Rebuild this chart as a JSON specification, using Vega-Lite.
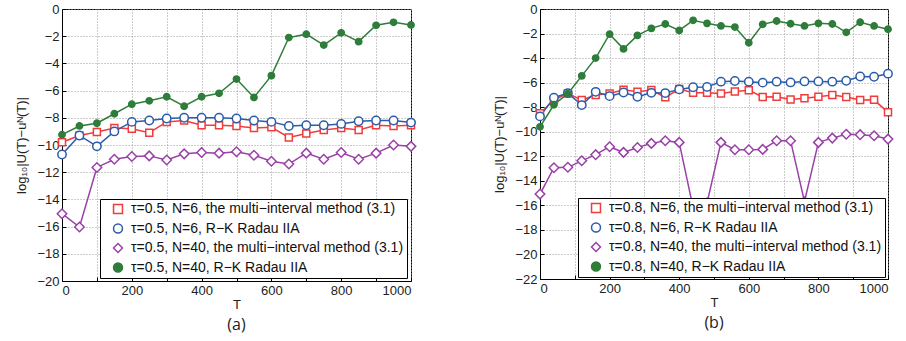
{
"$schema": "https://vega.github.io/schema/vega-lite/v6.json",
"padding": {"left": 15, "top": 2, "right": 0, "bottom": 0},
"spacing": 73,
"config": {
  "view": {"stroke": "black", "strokeWidth": 1},
  "font": "Liberation Sans",
  "axis": {"labelFont": "Liberation Sans", "titleFont": "Liberation Sans", "labelFontSize": 13, "titleFontSize": 13, "titleFontWeight": "normal", "labelColor": "#222", "titleColor": "#222", "domainColor": "black", "tickColor": "black", "tickSize": -4, "labelPadding": 7, "gridColor": "#999", "gridDash": [1, 2], "gridOpacity": 1},
  "legend": {"labelFont": "Liberation Sans", "labelFontSize": 14, "labelColor": "#111", "labelLimit": 600, "strokeColor": "black", "fillColor": "white", "padding": 3, "cornerRadius": 0, "symbolSize": 80, "symbolStrokeWidth": 1.5, "labelOffset": 6, "symbolOffset": 8, "rowPadding": 3.5},
  "title": {"font": "Open Sans", "fontSize": 16, "fontWeight": "normal", "color": "#222"}
},
"datasets": {
  "a": [
    {"s":"m6","T":0,"v":-9.8},{"s":"m6","T":50,"v":-9.3},{"s":"m6","T":100,"v":-9.05},{"s":"m6","T":150,"v":-8.75},{"s":"m6","T":200,"v":-8.8},{"s":"m6","T":250,"v":-9.1},{"s":"m6","T":300,"v":-8.3},{"s":"m6","T":350,"v":-8.2},{"s":"m6","T":400,"v":-8.55},{"s":"m6","T":450,"v":-8.55},{"s":"m6","T":500,"v":-8.6},{"s":"m6","T":550,"v":-8.75},{"s":"m6","T":600,"v":-8.7},{"s":"m6","T":650,"v":-9.45},{"s":"m6","T":700,"v":-9.15},{"s":"m6","T":750,"v":-8.9},{"s":"m6","T":800,"v":-8.75},{"s":"m6","T":850,"v":-8.9},{"s":"m6","T":900,"v":-8.55},{"s":"m6","T":950,"v":-8.6},{"s":"m6","T":1000,"v":-8.55},
    {"s":"r6","T":0,"v":-10.7},{"s":"r6","T":50,"v":-9.3},{"s":"r6","T":100,"v":-10.1},{"s":"r6","T":150,"v":-9.0},{"s":"r6","T":200,"v":-8.3},{"s":"r6","T":250,"v":-8.2},{"s":"r6","T":300,"v":-8.05},{"s":"r6","T":350,"v":-8.0},{"s":"r6","T":400,"v":-8.0},{"s":"r6","T":450,"v":-8.0},{"s":"r6","T":500,"v":-8.05},{"s":"r6","T":550,"v":-8.2},{"s":"r6","T":600,"v":-8.3},{"s":"r6","T":650,"v":-8.6},{"s":"r6","T":700,"v":-8.55},{"s":"r6","T":750,"v":-8.55},{"s":"r6","T":800,"v":-8.45},{"s":"r6","T":850,"v":-8.25},{"s":"r6","T":900,"v":-8.2},{"s":"r6","T":950,"v":-8.2},{"s":"r6","T":1000,"v":-8.35},
    {"s":"m40","T":0,"v":-15.05},{"s":"m40","T":50,"v":-16.03},{"s":"m40","T":100,"v":-11.65},{"s":"m40","T":150,"v":-11.05},{"s":"m40","T":200,"v":-10.85},{"s":"m40","T":250,"v":-10.8},{"s":"m40","T":300,"v":-11.1},{"s":"m40","T":350,"v":-10.65},{"s":"m40","T":400,"v":-10.55},{"s":"m40","T":450,"v":-10.6},{"s":"m40","T":500,"v":-10.5},{"s":"m40","T":550,"v":-10.75},{"s":"m40","T":600,"v":-11.2},{"s":"m40","T":650,"v":-11.4},{"s":"m40","T":700,"v":-10.6},{"s":"m40","T":750,"v":-11.05},{"s":"m40","T":800,"v":-10.55},{"s":"m40","T":850,"v":-11.05},{"s":"m40","T":900,"v":-10.6},{"s":"m40","T":950,"v":-10.0},{"s":"m40","T":1000,"v":-10.1},
    {"s":"r40","T":0,"v":-9.24},{"s":"r40","T":50,"v":-8.6},{"s":"r40","T":100,"v":-8.4},{"s":"r40","T":150,"v":-7.7},{"s":"r40","T":200,"v":-7.0},{"s":"r40","T":250,"v":-6.75},{"s":"r40","T":300,"v":-6.45},{"s":"r40","T":350,"v":-7.15},{"s":"r40","T":400,"v":-6.45},{"s":"r40","T":450,"v":-6.2},{"s":"r40","T":500,"v":-5.15},{"s":"r40","T":550,"v":-6.5},{"s":"r40","T":600,"v":-4.9},{"s":"r40","T":650,"v":-2.1},{"s":"r40","T":700,"v":-1.85},{"s":"r40","T":750,"v":-2.65},{"s":"r40","T":800,"v":-1.75},{"s":"r40","T":850,"v":-2.4},{"s":"r40","T":900,"v":-1.2},{"s":"r40","T":950,"v":-0.98},{"s":"r40","T":1000,"v":-1.17}
  ],
  "b": [
    {"s":"m6","T":0,"v":-8.5},{"s":"m6","T":40,"v":-7.42},{"s":"m6","T":80,"v":-6.88},{"s":"m6","T":120,"v":-7.42},{"s":"m6","T":160,"v":-7.0},{"s":"m6","T":200,"v":-6.88},{"s":"m6","T":240,"v":-6.58},{"s":"m6","T":280,"v":-6.75},{"s":"m6","T":320,"v":-6.6},{"s":"m6","T":360,"v":-7.2},{"s":"m6","T":400,"v":-6.52},{"s":"m6","T":440,"v":-6.82},{"s":"m6","T":480,"v":-6.82},{"s":"m6","T":520,"v":-6.88},{"s":"m6","T":560,"v":-6.72},{"s":"m6","T":600,"v":-6.63},{"s":"m6","T":640,"v":-7.17},{"s":"m6","T":680,"v":-7.15},{"s":"m6","T":720,"v":-7.37},{"s":"m6","T":760,"v":-7.28},{"s":"m6","T":800,"v":-7.15},{"s":"m6","T":840,"v":-7.0},{"s":"m6","T":880,"v":-7.17},{"s":"m6","T":920,"v":-7.42},{"s":"m6","T":960,"v":-7.4},{"s":"m6","T":1000,"v":-8.42},
    {"s":"r6","T":0,"v":-8.75},{"s":"r6","T":40,"v":-7.23},{"s":"r6","T":80,"v":-6.85},{"s":"r6","T":120,"v":-7.83},{"s":"r6","T":160,"v":-6.75},{"s":"r6","T":200,"v":-7.1},{"s":"r6","T":240,"v":-6.8},{"s":"r6","T":280,"v":-7.15},{"s":"r6","T":320,"v":-6.83},{"s":"r6","T":360,"v":-6.85},{"s":"r6","T":400,"v":-6.55},{"s":"r6","T":440,"v":-6.38},{"s":"r6","T":480,"v":-6.35},{"s":"r6","T":520,"v":-5.92},{"s":"r6","T":560,"v":-5.87},{"s":"r6","T":600,"v":-5.92},{"s":"r6","T":640,"v":-6.0},{"s":"r6","T":680,"v":-5.92},{"s":"r6","T":720,"v":-5.98},{"s":"r6","T":760,"v":-5.9},{"s":"r6","T":800,"v":-5.9},{"s":"r6","T":840,"v":-5.92},{"s":"r6","T":880,"v":-5.85},{"s":"r6","T":920,"v":-5.5},{"s":"r6","T":960,"v":-5.52},{"s":"r6","T":1000,"v":-5.27},
    {"s":"m40","T":0,"v":-15.08},{"s":"m40","T":40,"v":-12.93},{"s":"m40","T":80,"v":-12.9},{"s":"m40","T":120,"v":-12.37},{"s":"m40","T":160,"v":-11.87},{"s":"m40","T":200,"v":-11.22},{"s":"m40","T":240,"v":-11.68},{"s":"m40","T":280,"v":-11.28},{"s":"m40","T":320,"v":-10.95},{"s":"m40","T":360,"v":-10.73},{"s":"m40","T":400,"v":-10.87},{"s":"m40","T":440,"v":-16.2},{"s":"m40","T":480,"v":-15.8},{"s":"m40","T":520,"v":-10.87},{"s":"m40","T":560,"v":-11.47},{"s":"m40","T":600,"v":-11.47},{"s":"m40","T":640,"v":-11.44},{"s":"m40","T":680,"v":-10.73},{"s":"m40","T":720,"v":-10.73},{"s":"m40","T":760,"v":-15.7},{"s":"m40","T":800,"v":-10.87},{"s":"m40","T":840,"v":-10.52},{"s":"m40","T":880,"v":-10.2},{"s":"m40","T":920,"v":-10.24},{"s":"m40","T":960,"v":-10.33},{"s":"m40","T":1000,"v":-10.6},
    {"s":"r40","T":0,"v":-9.6},{"s":"r40","T":40,"v":-7.8},{"s":"r40","T":80,"v":-6.9},{"s":"r40","T":120,"v":-5.45},{"s":"r40","T":160,"v":-4.0},{"s":"r40","T":200,"v":-2.05},{"s":"r40","T":240,"v":-3.25},{"s":"r40","T":280,"v":-2.15},{"s":"r40","T":320,"v":-1.58},{"s":"r40","T":360,"v":-1.22},{"s":"r40","T":400,"v":-1.75},{"s":"r40","T":440,"v":-0.92},{"s":"r40","T":480,"v":-1.17},{"s":"r40","T":520,"v":-1.38},{"s":"r40","T":560,"v":-1.47},{"s":"r40","T":600,"v":-2.75},{"s":"r40","T":640,"v":-1.25},{"s":"r40","T":680,"v":-0.98},{"s":"r40","T":720,"v":-1.2},{"s":"r40","T":760,"v":-1.38},{"s":"r40","T":800,"v":-1.17},{"s":"r40","T":840,"v":-1.22},{"s":"r40","T":880,"v":-1.9},{"s":"r40","T":920,"v":-1.08},{"s":"r40","T":960,"v":-1.38},{"s":"r40","T":1000,"v":-1.65}
  ]
},
"hconcat": [
  {
    "width": 349, "height": 272,
    "data": {"name": "a"},
    "title": {"text": "(a)", "orient": "bottom", "anchor": "middle", "offset": 6},
    "encoding": {
      "x": {"field": "T", "type": "quantitative", "scale": {"domain": [0, 1000], "nice": false}, "axis": {"values": [0,100,200,300,400,500,600,700,800,900,1000], "format": "d", "title": "T", "titlePadding": 1}},
      "y": {"field": "v", "type": "quantitative", "scale": {"domain": [-20, 0], "nice": false}, "axis": {"values": [-20,-18,-16,-14,-12,-10,-8,-6,-4,-2,0], "format": "d", "title": "log₁₀|U(T)−uᴺ(T)|", "titlePadding": 8}}
    },
    "layer": [
      {"mark": {"type": "line", "strokeWidth": 1.5},
       "encoding": {"stroke": {"field": "s", "type": "nominal", "scale": {"domain": ["m6","r6","m40","r40"], "range": ["#f03c3c","#2a5caa","#9a40a8","#2e7d3a"]}}}},
      {"mark": {"type": "point", "strokeWidth": 1.5, "opacity": 1},
       "encoding": {
         "stroke": {"field": "s", "type": "nominal"},
         "fill": {"field": "s", "type": "nominal", "scale": {"domain": ["m6","r6","m40","r40"], "range": ["white","white","white","#2e7d3a"]}},
         "size": {"condition": [{"test": "datum.s=='m6'", "value": 49}, {"test": "datum.s=='m40'", "value": 90}, {"test": "datum.s=='r40'", "value": 40}], "value": 70},
         "shape": {"field": "s", "type": "nominal", "scale": {"domain": ["m6","r6","m40","r40"], "range": ["square","circle","diamond","circle"]},
           "legend": {"orient": "none", "legendX": 38, "legendY": 190, "title": null,
             "labelExpr": "datum.value=='m6'?'τ=0.5, N=6, the multi−interval method (3.1)':datum.value=='r6'?'τ=0.5, N=6, R−K Radau IIA':datum.value=='m40'?'τ=0.5, N=40, the multi−interval method (3.1)':'τ=0.5, N=40, R−K Radau IIA'"}}
       }}
    ]
  },
  {
    "width": 348, "height": 270,
    "data": {"name": "b"},
    "title": {"text": "(b)", "orient": "bottom", "anchor": "middle", "offset": 6},
    "encoding": {
      "x": {"field": "T", "type": "quantitative", "scale": {"domain": [0, 1000], "nice": false}, "axis": {"values": [0,100,200,300,400,500,600,700,800,900,1000], "format": "d", "title": "T", "titlePadding": 1}},
      "y": {"field": "v", "type": "quantitative", "scale": {"domain": [-22, 0], "nice": false}, "axis": {"values": [-22,-20,-18,-16,-14,-12,-10,-8,-6,-4,-2,0], "format": "d", "title": "log₁₀|U(T)−uᴺ(T)|", "titlePadding": 8}}
    },
    "layer": [
      {"mark": {"type": "line", "strokeWidth": 1.5},
       "encoding": {"stroke": {"field": "s", "type": "nominal", "scale": {"domain": ["m6","r6","m40","r40"], "range": ["#f03c3c","#2a5caa","#9a40a8","#2e7d3a"]}}}},
      {"mark": {"type": "point", "strokeWidth": 1.5, "opacity": 1},
       "encoding": {
         "stroke": {"field": "s", "type": "nominal"},
         "fill": {"field": "s", "type": "nominal", "scale": {"domain": ["m6","r6","m40","r40"], "range": ["white","white","white","#2e7d3a"]}},
         "size": {"condition": [{"test": "datum.s=='m6'", "value": 49}, {"test": "datum.s=='m40'", "value": 90}, {"test": "datum.s=='r40'", "value": 40}], "value": 70},
         "shape": {"field": "s", "type": "nominal", "scale": {"domain": ["m6","r6","m40","r40"], "range": ["square","circle","diamond","circle"]},
           "legend": {"orient": "none", "legendX": 38, "legendY": 189, "title": null,
             "labelExpr": "datum.value=='m6'?'τ=0.8, N=6, the multi−interval method (3.1)':datum.value=='r6'?'τ=0.8, N=6, R−K Radau IIA':datum.value=='m40'?'τ=0.8, N=40, the multi−interval method (3.1)':'τ=0.8, N=40, R−K Radau IIA'"}}
       }}
    ]
  }
],
"resolve": {"scale": {"x": "independent", "y": "independent", "stroke": "independent", "fill": "independent", "shape": "independent"}}
}
